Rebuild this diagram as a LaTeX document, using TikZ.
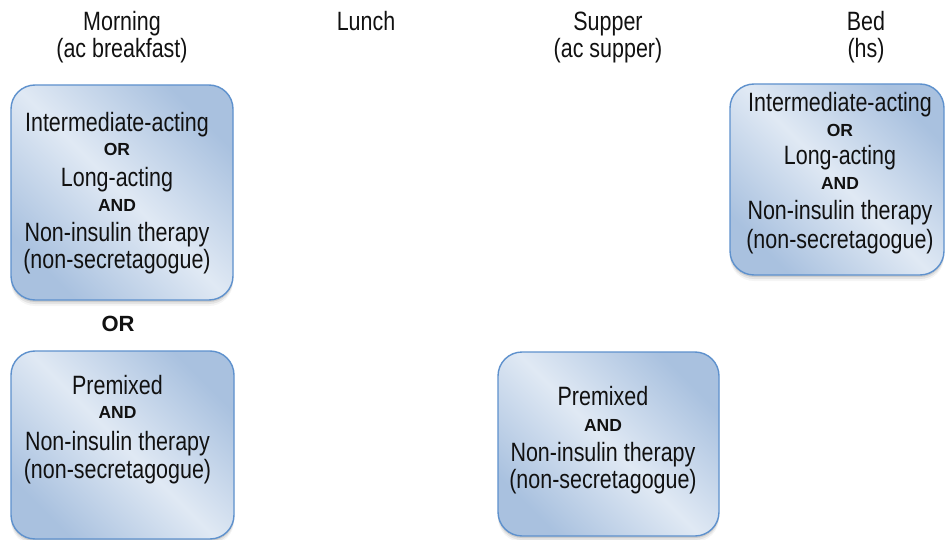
\documentclass[tikz,border=0pt]{standalone}
\usepackage{fontspec}
\setmainfont{Liberation Sans}
\newfontfamily\narrowsans[FakeStretch=0.81]{Liberation Sans}
\usetikzlibrary{shadows}

\definecolor{boxlight}{HTML}{E0E9F4}
\definecolor{boxdark}{HTML}{A9C1DF}
\definecolor{boxline}{HTML}{5E91CD}
\definecolor{ink}{HTML}{111111}

\tikzset{
  softshade/.style={
    general shadow={shadow yshift=-2pt, fill=black, opacity=0.10},
    general shadow={shadow yshift=-4pt, fill=black, opacity=0.07},
    general shadow={shadow yshift=-6pt, fill=black, opacity=0.04}},
  regimen/.style={rectangle, rounded corners=24pt, draw=boxline, line width=1.4pt,
    top color=boxdark, bottom color=boxdark, middle color=boxlight,
    shading angle=-45, softshade, inner sep=0pt},
  reg/.style={font=\narrowsans\fontsize{26.5}{28}\selectfont, text=ink,
    anchor=base, inner sep=0pt},
  kw/.style={font=\fontsize{17.5}{19}\selectfont\bfseries, text=ink,
    anchor=base, inner sep=0pt},
  bigkw/.style={font=\fontsize{22}{24}\selectfont\bfseries, text=ink,
    anchor=base, inner sep=0pt}
}

\begin{document}
\begin{tikzpicture}[x=1pt, y=-1pt]
\useasboundingbox (0,0) rectangle (945,540);

% column headings
\node[reg] (hMorning)    at (122,31) {Morning};
\node[reg] (hMorningSub) at (122,58) {(ac breakfast)};
\node[reg] (hLunch)      at (366,31) {Lunch};
\node[reg] (hSupper)     at (608,31) {Supper};
\node[reg] (hSupperSub)  at (608,58) {(ac supper)};
\node[reg] (hBed)        at (866,31) {Bed};
\node[reg] (hBedSub)     at (866,58) {(hs)};

% regimen boxes
\node[regimen, minimum width=222pt, minimum height=215pt] (morningBasal)   at (122,192.5) {};
\node[regimen, minimum width=223pt, minimum height=188pt] (morningPremix)  at (122.5,445) {};
\node[regimen, minimum width=221pt, minimum height=184pt] (supperPremix)   at (608.5,444) {};
\node[regimen, minimum width=214pt, minimum height=191pt] (bedBasal)       at (837,179.5) {};

% morning basal option
\node[reg] (mb1) at (117,132)   {Intermediate-acting};
\node[kw]  (mb2) at (117,156)   {OR};
\node[reg] (mb3) at (117,186.5) {Long-acting};
\node[kw]  (mb4) at (117,212)   {AND};
\node[reg] (mb5) at (117,242)   {Non-insulin therapy};
\node[reg] (mb6) at (117,269)   {(non-secretagogue)};

% alternative between the two morning options
\node[bigkw] (altOr) at (118,331) {OR};

% morning premixed option
\node[reg] (mp1) at (117.5,394)   {Premixed};
\node[kw]  (mp2) at (117.5,418.5) {AND};
\node[reg] (mp3) at (117.5,450)   {Non-insulin therapy};
\node[reg] (mp4) at (117.5,478.5) {(non-secretagogue)};

% supper premixed option
\node[reg] (sp1) at (603,405) {Premixed};
\node[kw]  (sp2) at (603,431) {AND};
\node[reg] (sp3) at (603,461) {Non-insulin therapy};
\node[reg] (sp4) at (603,488) {(non-secretagogue)};

% bedtime basal option
\node[reg] (bb1) at (840,112) {Intermediate-acting};
\node[kw]  (bb2) at (840,137) {OR};
\node[reg] (bb3) at (840,165) {Long-acting};
\node[kw]  (bb4) at (840,190) {AND};
\node[reg] (bb5) at (840,220) {Non-insulin therapy};
\node[reg] (bb6) at (840,248) {(non-secretagogue)};
\end{tikzpicture}
\end{document}
